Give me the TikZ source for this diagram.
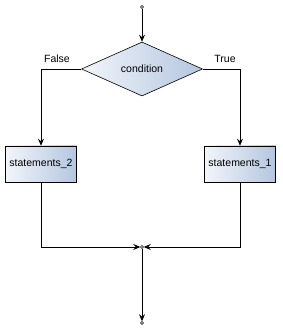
\documentclass[tikz,border=0pt]{standalone}
\usepackage{fontspec}
\setmainfont{Liberation Sans}
\usetikzlibrary{shapes.geometric,arrows.meta}
\definecolor{fillA}{HTML}{F2F5FA}
\definecolor{fillB}{HTML}{B4C6E0}
\tikzset{
  shadedfill/.style={draw=black, line width=0.6pt, left color=fillA, right color=fillB},
  decision/.style={shadedfill, diamond, minimum width=121pt, minimum height=54pt, inner sep=0pt, font=\fontsize{10.5}{12}\selectfont},
  stmt/.style={shadedfill, rectangle, minimum width=71pt, minimum height=36pt, inner sep=0pt, font=\fontsize{10.5}{12}\selectfont},
  flow/.style={draw=black, line width=0.7pt},
  arr/.style={flow, -{Stealth[length=7pt, width=6pt, inset=2.5pt]}},
  dot/.style={circle, draw=black, fill=white, inner sep=0pt, minimum size=3pt, line width=0.5pt},
  lbl/.style={font=\fontsize{10.5}{12}\selectfont}
}
\begin{document}
\begin{tikzpicture}[x=1pt,y=-1pt]
\useasboundingbox (0,0) rectangle (282,328);
\node[decision] (cond) at (142,69) {condition};
\node[stmt] (s2) at (41,164) {statements\_2};
\node[stmt] (s1) at (240,164) {statements\_1};
\coordinate (fc) at (41,69);
\coordinate (tc) at (240,69);
\coordinate (b2) at (41,247);
\coordinate (b1) at (240,247);
\node[dot] (start) at (142,7) {};
\node[dot] (join) at (142,247) {};
\node[dot] (end) at (142,323) {};
\draw[arr] (start) -- (cond.north);
\draw[arr] (cond.west) -- (fc) -- (s2.north);
\draw[arr] (cond.east) -- (tc) -- (s1.north);
\draw[arr] (s2.south) -- (b2) -- (join.west);
\draw[arr] (s1.south) -- (b1) -- (join.east);
\draw[arr] (join) -- (end.north);
\node[lbl] (lf) at (57,59) {False};
\node[lbl] (lt) at (225,59) {True};
\end{tikzpicture}
\end{document}
